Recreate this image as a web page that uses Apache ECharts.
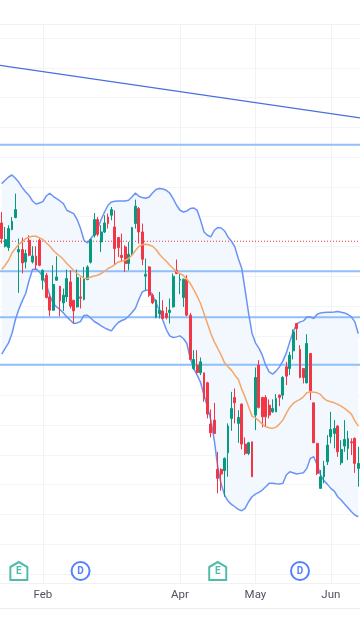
<!DOCTYPE html>
<html><head><meta charset="utf-8">
<script src="https://cdn.jsdelivr.net/npm/echarts@6/dist/echarts.min.js"></script>
<style>html,body{margin:0;padding:0;background:#fff}#c{width:360px;height:640px}</style>
</head><body><div id="c"></div>
<script>
const tickIndex=[12,52,74,96];
const tickLabels=['Feb','Apr','May','Jun'];
// [open, close, low, high]
const candles=[
[351.3,335.7,330.7,362.3],[328,334.7,326.7,347.3],[326.7,345.7,323.3,349],[344.7,353,344,357.3],[356.7,364.7,356,380.7],
[322.3,324.7,281.3,335.7],[324.7,311.3,300.7,336.7],[312.3,320.7,305.7,324.7],[334,319,318,339],[312.3,318.3,310.7,328],
[318,309,304.7,328],[334,309,308,336.7],[294,304,284.7,304.7],[299,276.7,275.7,301.3],[277.3,264,258,280.7],
[264,289.7,263.3,309],[294,297.3,293.3,318],[288,273.3,258,288],[271.3,279,263.3,285.7],[277.3,295.7,272.3,304.7],
[292.3,268,265.7,304],[274,263.3,250.7,274],[267.3,296.7,266.7,304.7],[277.3,276,265.7,296.7],[274.7,295.7,274,307.3],
[294.7,307.3,294,309],[312,334.7,310.7,335.7],[339,354.7,336.7,361.3],[354.7,340,338,357.3],[332.3,342.3,322.3,349],
[342.3,351.3,341.3,359],[357.3,350.7,345.7,360.7],[359,364.7,354,367.3],[347.3,325.7,309,364],[336.7,326.7,317.3,337.3],
[319,316.7,312.3,340.7],[327.3,310.7,302.3,329],[310.7,320,304,332.3],[320,346.7,319,347.3],[350.7,368,345.7,374.7],
[365.7,342.3,330.7,367.3],[342.3,315,309,350.7],[298,300,284,315.7],[307.3,279,277.3,308],[279,271.3,270,280.7],
[256.7,274,256,274.7],[260.7,264,255.7,282.3],[263.3,255.7,254.7,274],[260.7,256.7,254.7,267.3],[261.7,264,250.7,275.7],
[267.3,298,266.7,300.7],[304,300.7,300,314.7],[294,295,280,300.7],[276.7,295,267.3,295.7],[294.7,259,258,299],
[259,214.7,214,261.3],[205.7,214.7,204,224],[209,201.7,200.7,224],[201.3,212.3,199,216.7],[201.3,175.7,172.3,201.3],
[191.3,160,155.7,192.3],[150,141.3,136.7,164.7],[154,140.7,140,171.3],[104.7,95.7,80.7,122.3],[104.7,100,83.3,105.7],
[103.3,115.7,77.3,116.7],[121.3,148,97.3,150.7],[155.7,165.7,143.3,182.3],[176.7,171.3,150.7,185.7],[150.7,156.7,131.3,164],
[170,130,124.7,170.7],[130,120.7,119,136.7],[120.7,131.3,119,132.3],[132.3,97.3,97.3,132.3],[159,196.7,144,206.7],
[209,166.7,165.7,214],[176.7,157.3,146.7,177.3],[176.7,157.3,148,179],[169,159,155.7,174.7],[162.3,165.7,161.3,174.7],
[162.3,175.7,162,180],[179,176.7,168,179.7],[179,196.7,174.7,198],[207.3,198,189,212.3],[205.7,219,199,222.3],
[223.3,242.3,214.7,244.7],[250.7,245.7,234,251.3],[224.7,196.7,196,229],[205.7,196.7,190.7,205.7],[191.3,230.7,190.7,240],
[220.7,183.3,174,220.7],[171.3,131.3,131.3,171.3],[130.7,100.7,99,130.7],[85.7,97.3,85.7,104],[97.3,108,90.7,113.3],
[112.3,129,109,139],[137.3,144.7,130.7,162.3],[140.7,145.7,125.7,154],[148,122.3,117.3,149],[111.3,124.7,109,134],
[128,134.7,122.3,154],[125.7,135.7,114,143.3],[132.3,131.3,119,135.7],[135.7,110.7,101.3,136.7],[105.7,110.7,87.3,127.3]
];
const upperBand=[390.7,394,397.3,399.3,396,392,386.7,382.3,378.7,373.3,370.3,371.3,372.7,378.3,381,378,375.7,373.3,370.7,364,362.3,360.7,354.7,345.7,334,331.3,335.7,340,345.7,354.7,362.3,369,372.3,373,373.3,
373.3,373.3,374,377.3,381.3,378,376.7,376,377.3,381.3,384.7,385.7,385.3,384,381.3,375.7,369,364,362.3,363.3,365.7,366.3,364,354,342.3,339,337.3,344,346.7,346.3,343.3,337.3,333,327.3,315.7,
306,284,261,241,231.3,226,219,209,202.3,200,203,207.3,213,221,232.3,242.3,250,252.3,253.3,257.3,257.3,255.7,260,261.3,261.7,262,262,262.3,262.7,262,261.3,259.7,257.3,252.3,240.7];
const lowerBand=[220,225.7,231.3,240.7,254.7,265,273.3,280.7,294,304.7,305.3,302.3,297.3,290,279,270.7,267.3,264.7,261.3,257.3,254,250.7,251.3,252.7,258.7,259,256,252.7,250.7,248.3,246.3,244.7,243.3,248,251.7,
253.7,255,258,261.7,266,274.7,282.3,284,284,279,271.3,264,254,244.7,238.3,236.7,237.3,238.3,235.7,230.7,215.7,205.7,199,191.7,179,167.3,154,134,107.3,90,79,73,69.7,67.3,64.7,
63.3,65.7,72.3,77.3,80,81.7,84,87.3,90.7,90.7,90.3,90,90.7,99,102.3,101.3,100,100.7,101.3,105.7,115.7,117.3,109,99,93.3,89.7,85.7,83,77.3,74,70,66.3,62.3,59,57.3];
const midAverage=[304.7,309,314,321.3,325.7,330,332.3,335.7,337.3,338,338,336.3,334.7,331.3,328.3,324,320.7,318,314.7,310.7,307.3,303.7,300.7,298,296,295.7,297.3,298.3,299,300.7,303,305.7,307.3,309.7,312.3,
313,314,315.7,319,323.7,327.7,329.7,330,329.3,328,324.7,320,316.3,313,309.3,305.7,302.7,300.7,298.7,295,290.7,284.7,278,270.7,260.7,250.7,240.7,232.3,225.7,219,211.3,207.3,204,199,195,
185,177,167.3,158,156.3,153.3,150,147.3,146.3,145.7,147,150,154,160.7,166.7,170.7,173,174.7,177.3,181.3,182.3,182,181.3,179.7,175.7,173.3,172.3,171.3,169.7,168,165.7,163,160,153.3,148];
const levelValues=[429.5,303,257,209.5];
const lastPrice=333;
const trendX=[0,1];
const trendY=[509,456.4];
const earnings=[[5,3],[63,3]];
const dividends=[[23,3],[87,3]];

const categories=candles.map((_,i)=>'d'+i);
const tickNames={};tickIndex.forEach((k,n)=>tickNames[k]=tickLabels[n]);
const isTick=i=>tickNames[i]!==undefined;
const spanX=[0,1];
const gridC='#f1f2f5';
const blue='#6b93f6', levelC='#90bff9';

const hLines=levelValues.map(v=>({type:'line',xAxisIndex:2,yAxisIndex:1,data:spanX.map(x=>[x,v]),symbol:'none',silent:true,z:3,
  lineStyle:{color:levelC,width:2}}));
const option={
 animation:false,backgroundColor:'#fff',
 graphic:[{type:'line',shape:{x1:0,y1:608.5,x2:360,y2:608.5},style:{stroke:'#eaecf2',lineWidth:1},silent:true}],
 grid:[
  {left:0,width:360,top:24,height:559,show:false},
  {left:0,width:360,top:38,height:536,show:false}
 ],
 xAxis:[
  {type:'category',gridIndex:0,data:categories,position:'bottom',boundaryGap:true,
   axisLine:{show:true,lineStyle:{color:'#f0f1f5',width:1}},axisTick:{show:false},
   axisLabel:{interval:i=>isTick(i),formatter:(v,i)=>tickNames[i]||'',color:'#50535e',fontFamily:'Roboto',fontSize:11.5,margin:6,hideOverlap:false},
   splitLine:{show:true,interval:i=>isTick(i),alignWithLabel:true,lineStyle:{color:gridC,width:1}}},
  {type:'category',gridIndex:1,data:categories,boundaryGap:true,axisLine:{show:false},axisTick:{show:false},axisLabel:{show:false},splitLine:{show:false}},
  {type:'value',gridIndex:1,min:0,max:1,show:false,splitLine:{show:false}},
  {type:'category',gridIndex:0,data:categories,position:'top',axisLine:{show:true,lineStyle:{color:'#f0f1f5',width:1}},axisTick:{show:false},axisLabel:{show:false},splitLine:{show:false}}
 ],
 yAxis:[
  {type:'value',gridIndex:0,min:0,max:100,show:false,splitLine:{show:false}},
  {type:'value',gridIndex:1,min:0,max:536.4,interval:29.8,axisLine:{show:false},axisTick:{show:false},axisLabel:{show:false},
   splitLine:{show:true,lineStyle:{color:'#f3f4f6',width:1}}}
 ],
 series:[
  {type:'line',xAxisIndex:1,yAxisIndex:1,data:lowerBand,stack:'band',symbol:'none',lineStyle:{width:0},silent:true,z:1},
  {type:'line',xAxisIndex:1,yAxisIndex:1,data:upperBand.map((u,i)=>u-lowerBand[i]),stack:'band',symbol:'none',lineStyle:{width:0},areaStyle:{color:'#f3f8fe',opacity:1},silent:true,z:1},
  ...hLines,
  {type:'line',xAxisIndex:2,yAxisIndex:1,data:spanX.map(x=>[x,lastPrice]),symbol:'none',silent:true,z:3,lineStyle:{color:'#f23645',width:1,type:[1,2]}},
  {type:'line',xAxisIndex:2,yAxisIndex:1,data:trendX.map((x,i)=>[x,trendY[i]]),symbol:'none',silent:true,z:3,lineStyle:{color:'#4a6fdc',width:1.2}},
  {type:'line',xAxisIndex:1,yAxisIndex:1,data:upperBand,symbol:'none',silent:true,z:4,lineStyle:{color:blue,width:1.5}},
  {type:'line',xAxisIndex:1,yAxisIndex:1,data:lowerBand,symbol:'none',silent:true,z:4,lineStyle:{color:blue,width:1.5}},
  {type:'candlestick',xAxisIndex:1,yAxisIndex:1,data:candles,barWidth:2.4,z:5,silent:true,
   itemStyle:{color:'#089981',color0:'#f23645',borderColor:'#089981',borderColor0:'#f23645',borderWidth:1}},
  {type:'line',xAxisIndex:1,yAxisIndex:1,data:midAverage,symbol:'none',silent:true,z:6,lineStyle:{color:'#f7a566',width:1.5}},
  {type:'scatter',xAxisIndex:1,yAxisIndex:1,data:earnings,clip:false,z:7,silent:true,
   symbol:'path://M1 6 L9 1 L17 6 L17 19 L1 19 Z',symbolSize:[17,18],
   itemStyle:{color:'#fff',borderColor:'#22ab94',borderWidth:2},
   label:{show:true,position:'inside',formatter:'E',color:'#22ab94',fontFamily:'Roboto',fontSize:10,fontWeight:'bold'}},
  {type:'scatter',xAxisIndex:1,yAxisIndex:1,data:dividends,clip:false,z:7,silent:true,
   symbol:'circle',symbolSize:18,
   itemStyle:{color:'#fff',borderColor:'#2962ff',borderWidth:2},
   label:{show:true,position:'inside',formatter:'D',color:'#2962ff',fontFamily:'Roboto',fontSize:10,fontWeight:'bold'}}
 ]
};
echarts.init(document.getElementById('c'),null,{renderer:'canvas'}).setOption(option);
</script></body></html>
